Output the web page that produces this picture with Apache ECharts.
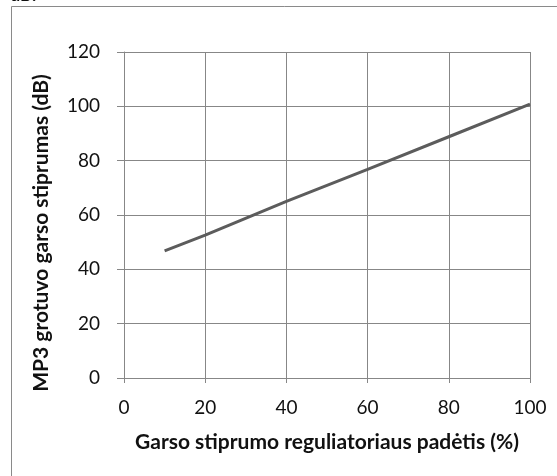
<!DOCTYPE html>
<html>
<head>
<meta charset="utf-8">
<script src="https://cdn.jsdelivr.net/npm/echarts@6/dist/echarts.min.js"></script>
<style>
  html, body { margin: 0; padding: 0; background: #fff; }
  #chart { width: 557px; height: 476px; }
</style>
</head>
<body>
<div id="chart"></div>
<script>
// reguliatoriaus padetis (%) ir garso stiprumas (dB)
const positions = [10, 20, 40, 60, 80, 100]
const loudness = [46.8, 52.6, 65, 76.8, 88.8, 100.8]
const xTicks = [0, 20, 40, 60, 80, 100]
const yTicks = [0, 20, 40, 60, 80, 100, 120]

const xName = 'Garso stiprumo reguliatoriaus padėtis (%)'
const yName = 'MP3 grotuvo garso stiprumas (dB)'

const gridColor = '#878787'
const font = 'Lato, "Open Sans", sans-serif'

const chart = echarts.init(document.getElementById('chart'))

const option = {
  animation: false,
  backgroundColor: '#fff',
  graphic: [
    {
      type: 'rect',
      shape: { x: 11.5, y: 6.5, width: 700, height: 700 },
      style: { fill: 'none', stroke: '#8a8a8a', lineWidth: 1 }
    },
    {
      type: 'text',
      left: 10,
      top: -14,
      style: { text: 'dB.', font: 'bold 18px ' + font, fill: '#111' }
    }
  ],
  grid: { left: 124, right: 27, top: 52, bottom: 98 },
  xAxis: {
    type: 'value',
    min: xTicks[0],
    max: xTicks[xTicks.length - 1],
    interval: 20,
    name: xName,
    nameLocation: 'middle',
    nameGap: 54,
    nameTextStyle: { fontFamily: font, fontWeight: 'bold', fontSize: 21, color: '#111' },
    axisLine: { show: true, lineStyle: { color: gridColor, width: 1 } },
    axisTick: { show: true, length: 5, lineStyle: { color: gridColor } },
    axisLabel: { margin: 20, fontFamily: font, fontSize: 19, color: '#111' },
    splitLine: { show: true, lineStyle: { color: gridColor, width: 1 } }
  },
  yAxis: {
    type: 'value',
    min: yTicks[0],
    max: yTicks[yTicks.length - 1],
    interval: 20,
    name: yName,
    nameLocation: 'middle',
    nameGap: 72,
    nameTextStyle: { fontFamily: font, fontWeight: 'bold', fontSize: 21, color: '#111', padding: [0, 36, 0, 0] },
    axisLine: { show: true, lineStyle: { color: gridColor, width: 1 } },
    axisTick: { show: true, length: 7, lineStyle: { color: gridColor } },
    axisLabel: { margin: 24, fontFamily: font, fontSize: 19, color: '#111' },
    splitLine: { show: true, lineStyle: { color: gridColor, width: 1 } }
  },
  series: [
    {
      type: 'line',
      data: positions.map((p, i) => [p, loudness[i]]),
      showSymbol: false,
      lineStyle: { color: '#5c5c5c', width: 3 }
    }
  ]
}

chart.setOption(option)
</script>
</body>
</html>
